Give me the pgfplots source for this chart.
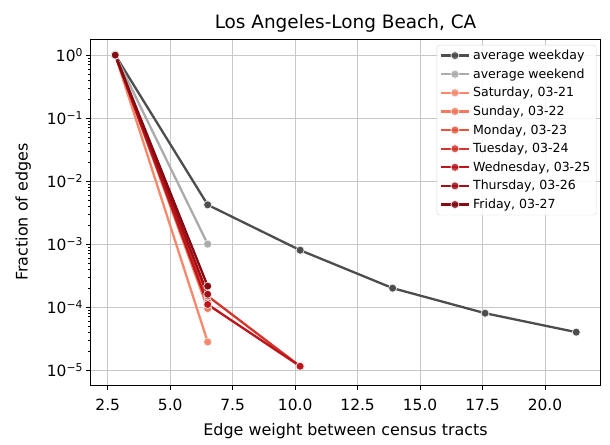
\documentclass[border=0pt]{standalone}
\usepackage{pgfplots}
\pgfplotsset{compat=1.18}
\usepackage{fontspec}
\setmainfont{DejaVu Sans}
\definecolor{cwd}{HTML}{4D4D4D}
\definecolor{cwe}{HTML}{ABABAB}
\definecolor{csat}{HTML}{F9876A}
\definecolor{csun}{HTML}{F4785A}
\definecolor{cmon}{HTML}{E8533A}
\definecolor{ctue}{HTML}{D4352A}
\definecolor{cwed}{HTML}{BE151B}
\definecolor{cthu}{HTML}{A10E16}
\definecolor{cfri}{HTML}{860A12}
\begin{document}
\begin{tikzpicture}
\begin{semilogyaxis}[
  scale only axis,
  width=509bp, height=346bp,
  xmin=1.83, xmax=22.2,
  ymin=5.8e-6, ymax=1.8,
  xtick={2.5,5,7.5,10,12.5,15,17.5,20},
  xticklabel style={/pgf/number format/fixed,/pgf/number format/fixed zerofill,/pgf/number format/precision=1, yshift=-6bp},
  /pgf/number format/assume math mode=true,
  ytick={1e-5,1e-4,1e-3,1e-2,1e-1,1},
  yticklabels={10\textsuperscript{−5},10\textsuperscript{−4},10\textsuperscript{−3},10\textsuperscript{−2},10\textsuperscript{−1},10\textsuperscript{0}},
  tick label style={font=\fontsize{15.5}{17}\selectfont, black},
  grid=major,
  major grid style={color=black!22, line width=1bp},
  minor grid style={draw=none},
  tick align=outside,
  xtick pos=bottom, ytick pos=left,
  major tick length=4.5bp, minor tick length=2.5bp,
  every tick/.style={black, line width=0.8bp},
  axis line style={black, line width=1bp},
  xlabel={Edge weight between census tracts},
  ylabel={Fraction of edges},
  label style={font=\fontsize{16}{18}\selectfont},
  xlabel style={yshift=-6bp},
  ylabel style={yshift=9bp},
  title={Los Angeles-Long Beach, CA},
  title style={font=\fontsize{18.5}{20}\selectfont, yshift=-3bp},
  legend style={font=\fontsize{12.6}{14}\selectfont, draw=black!15, rounded corners=3bp, fill=white, fill opacity=0.85, text opacity=1, row sep=3.6bp, inner sep=3bp, at={(0.993,0.983)}, anchor=north east, nodes={inner xsep=3bp}},
  legend cell align=left,
  legend image code/.code={\draw[#1, mark repeat=2, mark phase=2] plot coordinates {(0bp,0bp) (14bp,0bp) (28bp,0bp)};},
  every axis plot/.append style={line width=2.3bp, mark=*, mark size=4bp, mark options={draw=white!85!gray, line width=0.7bp, solid}},
]
\addplot[color=cwd] coordinates {(2.8,1) (6.5,4.2e-3) (10.2,8.0e-4) (13.9,2.0e-4) (17.6,8.0e-5) (21.25,4.0e-5)};
\addlegendentry{average weekday}
\addplot[color=cwe] coordinates {(2.8,1) (6.5,1.0e-3)};
\addlegendentry{average weekend}
\addplot[color=csat] coordinates {(2.8,1) (6.5,2.8e-5)};
\addlegendentry{Saturday, 03-21}
\addplot[color=csun] coordinates {(2.8,1) (6.5,9.5e-5)};
\addlegendentry{Sunday, 03-22}
\addplot[color=cmon] coordinates {(2.8,1) (6.5,1.2e-4)};
\addlegendentry{Monday, 03-23}
\addplot[color=ctue] coordinates {(2.8,1) (6.5,1.5e-4) (10.2,1.15e-5)};
\addlegendentry{Tuesday, 03-24}
\addplot[color=cwed] coordinates {(2.8,1) (6.5,1.1e-4) (10.2,1.15e-5)};
\addlegendentry{Wednesday, 03-25}
\addplot[color=cthu] coordinates {(2.8,1) (6.5,1.6e-4)};
\addlegendentry{Thursday, 03-26}
\addplot[color=cfri] coordinates {(2.8,1) (6.5,2.15e-4)};
\addlegendentry{Friday, 03-27}
\end{semilogyaxis}
\pgfresetboundingbox
\path[use as bounding box] ([xshift=-91bp,yshift=-60bp]current axis.south west) rectangle ([xshift=10bp,yshift=39bp]current axis.north east);
\end{tikzpicture}
\end{document}
